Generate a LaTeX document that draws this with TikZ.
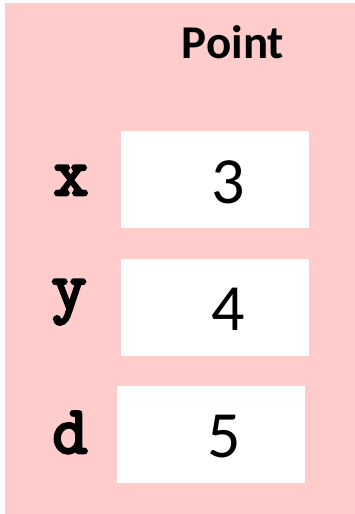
\documentclass[tikz,border=0pt]{standalone}
\usepackage{fontspec}
\setmainfont{Carlito}
\setmonofont{Latin Modern Mono}[AutoFakeBold=4]
\definecolor{bgpink}{RGB}{255,204,204}
\begin{document}
\begin{tikzpicture}[x=1pt,y=-1pt,
  valbox/.style={fill=white,draw=none},
  lbl/.style={font=\ttfamily\bfseries\fontsize{68}{68}\selectfont,anchor=base,inner sep=0pt},
  num/.style={font=\fontsize{66}{66}\selectfont,anchor=base,inner sep=0pt}]
\useasboundingbox (0,0) rectangle (355,514);
\fill[bgpink] (5,3) rectangle (355,514);
\node[font=\bfseries\fontsize{47}{47}\selectfont,anchor=base,inner sep=0pt] (title) at (233,58) {Point};
\path[valbox] (121,131) rectangle (309,228);
\path[valbox] (121,259) rectangle (309,356);
\path[valbox] (117,386) rectangle (305,483);
\node[lbl] (lx) at (71,195) {x};
\node[lbl] (ly) at (69,309) {y};
\node[lbl] (ld) at (70,453) {d};
\node[num] (vx) at (228,203) {3};
\node[num] (vy) at (228,330) {4};
\node[num] (vd) at (224,457) {5};
\end{tikzpicture}
\end{document}
